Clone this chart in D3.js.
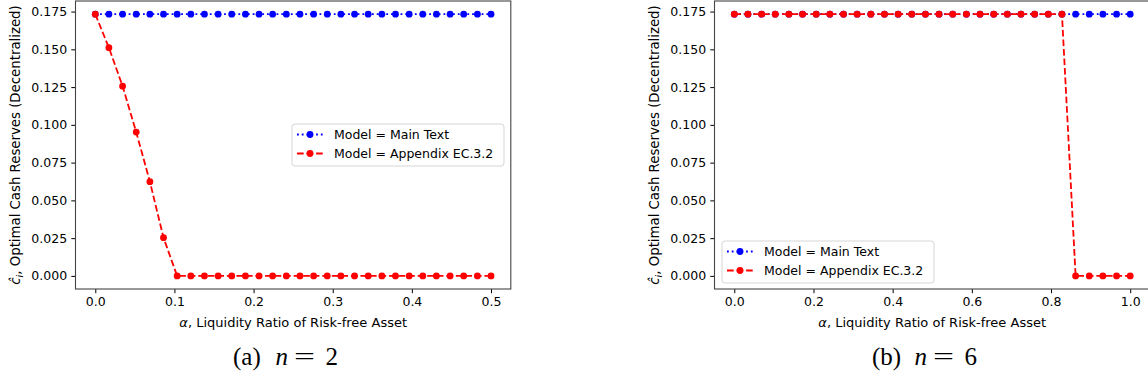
<!DOCTYPE html>
<html lang="en">
<head>
<meta charset="utf-8">
<title>Optimal cash reserves vs liquidity ratio</title>
<style>
    body { margin: 0; background: #fff; }
    svg text { font-family: "DejaVu Sans", sans-serif; fill: #000; }
    .caption text { font-family: "Liberation Serif", "DejaVu Serif", serif; }
</style>
<script src="https://d3js.org/d3.v7.min.js"></script>
</head>
<body>
<svg id="chart"></svg>
<script>
    const width = 1148;
    const height = 383;

    // alpha grids (30 points each)
    const alphaA = [0, 0.0172, 0.0345, 0.0517, 0.0690, 0.0862, 0.1034, 0.1207, 0.1379, 0.1552,
        0.1724, 0.1897, 0.2069, 0.2241, 0.2414, 0.2586, 0.2759, 0.2931, 0.3103, 0.3276,
        0.3448, 0.3621, 0.3793, 0.3966, 0.4138, 0.4310, 0.4483, 0.4655, 0.4828, 0.5];
    const alphaB = [0, 0.0345, 0.0690, 0.1034, 0.1379, 0.1724, 0.2069, 0.2414, 0.2759, 0.3103,
        0.3448, 0.3793, 0.4138, 0.4483, 0.4828, 0.5172, 0.5517, 0.5862, 0.6207, 0.6552,
        0.6897, 0.7241, 0.7586, 0.7931, 0.8276, 0.8621, 0.8966, 0.9310, 0.9655, 1.0];

    // n = 2
    const mainA = [0.1733, 0.1733, 0.1733, 0.1733, 0.1733, 0.1733, 0.1733, 0.1733, 0.1733, 0.1733,
        0.1733, 0.1733, 0.1733, 0.1733, 0.1733, 0.1733, 0.1733, 0.1733, 0.1733, 0.1733,
        0.1733, 0.1733, 0.1733, 0.1733, 0.1733, 0.1733, 0.1733, 0.1733, 0.1733, 0.1733];
    const appendixA = [0.1733, 0.1511, 0.1256, 0.0952, 0.0624, 0.0253, 0, 0, 0, 0,
        0, 0, 0, 0, 0, 0, 0, 0, 0, 0,
        0, 0, 0, 0, 0, 0, 0, 0, 0, 0];

    // n = 6
    const mainB = [0.1733, 0.1733, 0.1733, 0.1733, 0.1733, 0.1733, 0.1733, 0.1733, 0.1733, 0.1733,
        0.1733, 0.1733, 0.1733, 0.1733, 0.1733, 0.1733, 0.1733, 0.1733, 0.1733, 0.1733,
        0.1733, 0.1733, 0.1733, 0.1733, 0.1733, 0.1733, 0.1733, 0.1733, 0.1733, 0.1733];
    const appendixB = [0.1733, 0.1733, 0.1733, 0.1733, 0.1733, 0.1733, 0.1733, 0.1733, 0.1733, 0.1733,
        0.1733, 0.1733, 0.1733, 0.1733, 0.1733, 0.1733, 0.1733, 0.1733, 0.1733, 0.1733,
        0.1733, 0.1733, 0.1733, 0.1733, 0.1733, 0, 0, 0, 0, 0];

    const yTicks = [0, 0.025, 0.05, 0.075, 0.1, 0.125, 0.15, 0.175];
    const xTicksA = [0, 0.1, 0.2, 0.3, 0.4, 0.5];
    const xTicksB = [0, 0.2, 0.4, 0.6, 0.8, 1.0];
    const seriesNames = ["Model = Main Text", "Model = Appendix EC.3.2"];

    const svg = d3.select('#chart').attr('width', width).attr('height', height);

    const lw = 1.8;
    const styles = [
        {color: '#0000ff', dash: `${1 * lw},${1.65 * lw}`},
        {color: '#ff0000', dash: `${3.7 * lw},${1.6 * lw}`}
    ];

    drawPanel({
        left: 75.5, right: 510.8, top: 1, bottom: 289,
        xDomain: [-0.025, 0.525], xTicks: xTicksA, xFmt: d3.format('.1f'),
        x: alphaA, series: [mainA, appendixA],
        legend: {x: 292, y: 124, w: 212},
        caption: {label: 'a', n: '2'}
    });
    drawPanel({
        left: 714.5, right: 1150, top: 1, bottom: 289,
        xDomain: [-0.05, 1.05], xTicks: xTicksB, xFmt: d3.format('.1f'),
        x: alphaB, series: [mainB, appendixB],
        legend: {x: 722, y: 241, w: 212},
        caption: {label: 'b', n: '6'}
    });

    function drawPanel(cfg) {
        const x = d3.scaleLinear().domain(cfg.xDomain).range([cfg.left, cfg.right]);
        const y = d3.scaleLinear().domain([-0.00867, 0.1820]).range([cfg.bottom, cfg.top]);
        const g = svg.append('g');

        // axes
        const xAxis = g.append('g')
            .attr('transform', `translate(0,${cfg.bottom})`)
            .call(d3.axisBottom(x).tickValues(cfg.xTicks).tickFormat(cfg.xFmt).tickSize(4.2).tickPadding(4.2));
        const yAxis = g.append('g')
            .attr('transform', `translate(${cfg.left},0)`)
            .call(d3.axisLeft(y).tickValues(yTicks).tickFormat(d3.format('.3f')).tickSize(4.2).tickPadding(4.2));
        [xAxis, yAxis].forEach(a => {
            a.select('.domain').remove();
            a.selectAll('line').attr('stroke', '#000').attr('stroke-width', 1);
            a.selectAll('text').style('font-size', '12.5px').attr('fill', '#000');
        });

        // frame
        g.append('rect')
            .attr('x', cfg.left).attr('y', cfg.top)
            .attr('width', cfg.right - cfg.left).attr('height', cfg.bottom - cfg.top)
            .attr('fill', 'none').attr('stroke', '#444').attr('stroke-width', 1.1);

        // lines + markers
        const line = d3.line().x(d => x(d[0])).y(d => y(d[1]));
        cfg.series.forEach((vals, i) => {
            const pts = cfg.x.map((a, j) => [a, vals[j]]);
            g.append('path')
                .datum(pts)
                .attr('d', line)
                .attr('fill', 'none')
                .attr('stroke', styles[i].color)
                .attr('stroke-width', lw)
                .attr('stroke-dasharray', styles[i].dash);
            g.append('g').selectAll('circle')
                .data(pts)
                .enter().append('circle')
                .attr('cx', d => x(d[0]))
                .attr('cy', d => y(d[1]))
                .attr('r', 3.4)
                .attr('fill', styles[i].color);
        });

        // x label (centred on the full axes width, even if clipped)
        const xl = g.append('text')
            .attr('x', cfg.left + 217.7)
            .attr('y', 326.5)
            .attr('text-anchor', 'middle')
            .style('font-size', '13px');
        xl.append('tspan').style('font-style', 'italic').text('α');
        xl.append('tspan').text(', Liquidity Ratio of Risk-free Asset');

        // y label
        const yl = g.append('text')
            .attr('transform', `translate(${cfg.left - 55.5},${(cfg.top + cfg.bottom) / 2}) rotate(-90)`)
            .attr('text-anchor', 'middle')
            .style('font-size', '13.3px');
        yl.append('tspan').style('font-style', 'italic').text('ĉ');
        yl.append('tspan').style('font-style', 'italic').style('font-size', '9.5px').attr('dy', 3).text('i');
        yl.append('tspan').attr('dy', -3).text(', Optimal Cash Reserves (Decentralized)');

        // legend
        const lg = g.append('g').attr('transform', `translate(${cfg.legend.x},${cfg.legend.y})`);
        lg.append('rect')
            .attr('width', cfg.legend.w).attr('height', 42)
            .attr('rx', 3)
            .attr('fill', '#fff').attr('fill-opacity', 0.8)
            .attr('stroke', '#d6d6d6').attr('stroke-width', 1);
        seriesNames.forEach((name, i) => {
            const cy = 10.5 + i * 19;
            lg.append('line')
                .attr('x1', 5).attr('x2', 31).attr('y1', cy).attr('y2', cy)
                .attr('stroke', styles[i].color).attr('stroke-width', lw)
                .attr('stroke-dasharray', styles[i].dash);
            lg.append('circle').attr('cx', 18).attr('cy', cy).attr('r', 3.4).attr('fill', styles[i].color);
            lg.append('text')
                .attr('x', 42).attr('y', cy + 4.5)
                .style('font-size', '12.5px')
                .text(name);
        });

        // caption "(a) n = 2", pieces placed like the LaTeX subcaption
        const cx0 = cfg.left + 157.5;
        const cap = svg.append('g').attr('class', 'caption')
            .attr('transform', `translate(${cx0},365)`)
            .style('font-size', '25px');
        cap.append('text').attr('x', 0).text(`(${cfg.caption.label})`);
        cap.append('text').attr('x', 42.5).style('font-style', 'italic').text('n');
        cap.append('text').attr('x', 61).attr('textLength', 21).attr('lengthAdjust', 'spacingAndGlyphs').text('=');
        cap.append('text').attr('x', 92.5).text(cfg.caption.n);
    }
</script>
</body>
</html>
